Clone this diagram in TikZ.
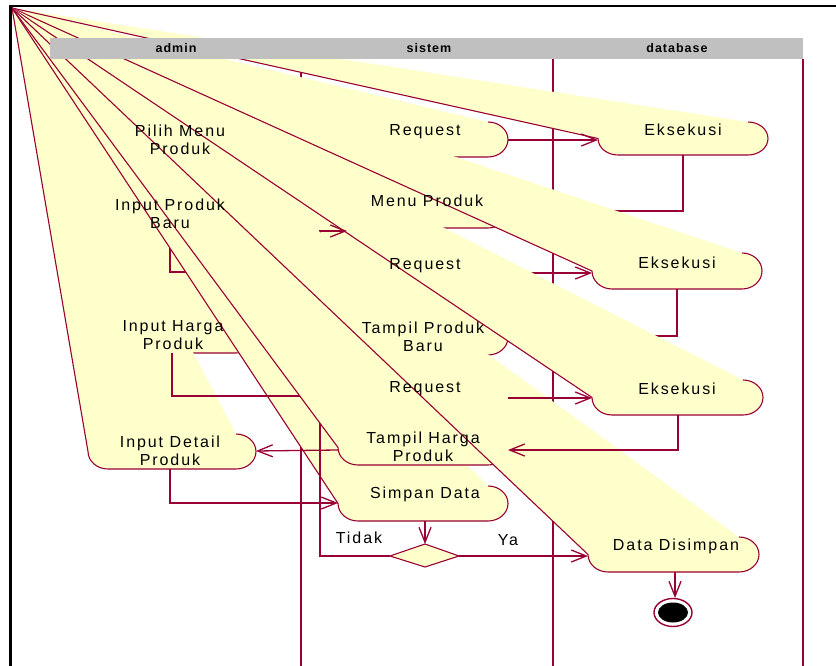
\documentclass[tikz,border=0pt]{standalone}
\usepackage{fontspec}
\setmainfont{Liberation Sans}
\newfontfamily\lblfont[LetterSpace=12]{Liberation Sans}
\newfontfamily\hdrfont[LetterSpace=8]{Liberation Sans}
\usetikzlibrary{arrows.meta}
\definecolor{mar}{RGB}{153,0,51}
\definecolor{actyel}{RGB}{255,255,204}
\definecolor{hdrgray}{RGB}{192,192,192}
\tikzset{
  actline/.style={draw=mar,line width=1.1pt,line join=round},
  trline/.style={draw=mar,line width=1.3pt,-{Straight Barb[length=15pt,width=12pt]}},
  plainline/.style={draw=mar,line width=1.3pt},
  lane/.style={draw=mar,line width=1.8pt},
  lbl/.style={font=\lblfont\fontsize{16}{18}\selectfont,align=center,inner sep=0pt},
  hdr/.style={font=\hdrfont\bfseries\fontsize{12.5}{14}\selectfont,inner sep=0pt}
}
% activity drawn with its top-left corner collapsed to the point (12,8)
\newcommand\actvshape[4]{%
  \pgfmathsetmacro\ymid{(#3+#4)/2}%
  \pgfmathsetmacro\hk{0.552*(#4-#3)/2}%
  \fill[actyel] (12,8) -- (#2-20,#3) .. controls (#2-9,#3) and (#2,\ymid-\hk) .. (#2,\ymid)
     .. controls (#2,\ymid+\hk) and (#2-9,#4) .. (#2-20,#4) -- (#1+20,#4)
     .. controls (#1+9,#4) and (#1,\ymid+\hk) .. (#1,\ymid) -- cycle;
  \draw[actline] (#2-20,#3) .. controls (#2-9,#3) and (#2,\ymid-\hk) .. (#2,\ymid)
     .. controls (#2,\ymid+\hk) and (#2-9,#4) .. (#2-20,#4) -- (#1+20,#4)
     .. controls (#1+9,#4) and (#1,\ymid+\hk) .. (#1,\ymid) -- (12,8);
}
\begin{document}
\begin{tikzpicture}[x=1pt,y=-1pt]
\useasboundingbox (0,0) rectangle (836,666);
% lanes
\draw[lane] (301,59) -- (301,666);
\draw[lane] (553,59) -- (553,666);
\draw[lane] (803,59) -- (803,666);
% activities and transitions in drawing order
\actvshape{95}{263}{122}{157}   % Pilih Menu Produk
\actvshape{338}{508}{122}{157}  % Request 1
\draw[trline] (263,140) -- (338,140);
\actvshape{598}{768}{122}{155}  % Eksekusi 1
\actvshape{338}{508}{192}{228}  % Menu Produk
\draw[trline] (683,155) -- (683,211) -- (508,211);
\actvshape{86}{254}{197}{232}   % Input Produk Baru
\draw[trline] (338,211) -- (254,214);
\actvshape{338}{508}{257}{292}  % Request 2
\actvshape{592}{762}{253}{289}  % Eksekusi 2
\draw[trline] (508,273) -- (592,273);
\actvshape{338}{508}{320}{355}  % Tampil Produk Baru
\draw[trline] (677,289) -- (677,336) -- (508,336);
\actvshape{88}{256}{318}{353}   % Input Harga Produk
\draw[trline] (338,337) -- (256,336);
\actvshape{338}{508}{380}{415}  % Request 3
\actvshape{592}{763}{380}{415}  % Eksekusi 3
\actvshape{88}{256}{434}{469}   % Input Detail Produk
\draw[trline] (170,232) -- (170,272) -- (338,272);
\actvshape{338}{508}{486}{521}  % Simpan Data
\draw[trline] (172,353) -- (172,396) -- (338,396);
\draw[trline] (390,556) -- (320,556) -- (320,231) -- (347,231);
\actvshape{338}{508}{430}{465}  % Tampil Harga Produk
\actvshape{588}{759}{537}{572}  % Data Disimpan
\draw[trline] (508,140) -- (598,140);
\draw[trline] (508,398) -- (592,398);
\draw[trline] (678,415) -- (678,450) -- (508,450);
\draw[trline] (338,450) -- (256,451);
\draw[trline] (170,469) -- (170,503) -- (338,503);
% decision
\filldraw[fill=actyel,actline] (425,544) -- (459,556) -- (425,567) -- (390,556) -- cycle;
\draw[trline] (425,521) -- (425,544);
\draw[trline] (459,556) -- (588,556);
% final
\draw[trline] (675,572) -- (675,598);
\filldraw[fill=white,draw=mar,line width=1.4pt] (673,612.5) ellipse [x radius=19,y radius=14];
\fill[black] (673,612.5) ellipse [x radius=15,y radius=10];
% labels
\node[lbl] (t1) at (180,140) {Pilih Menu\\Produk};
\node[lbl] (t2) at (425,132) {Request};
\node[lbl] (t3) at (683,130) {Eksekusi};
\node[lbl] (t4) at (427,201) {Menu Produk};
\node[lbl] (t5) at (170,214) {Input Produk\\Baru};
\node[lbl] (t6) at (425,266) {Request};
\node[lbl] (t7) at (677,263) {Eksekusi};
\node[lbl] (t8) at (423,337) {Tampil Produk\\Baru};
\node[lbl] (t9) at (173,335) {Input Harga\\Produk};
\node[lbl] (t10) at (425,389) {Request};
\node[lbl] (t11) at (677,389) {Eksekusi};
\node[lbl] (t12) at (423,447) {Tampil Harga\\Produk};
\node[lbl] (t13) at (170,451) {Input Detail\\Produk};
\node[lbl] (t14) at (425,494) {Simpan Data};
\node[lbl] (t15) at (676,546) {Data Disimpan};
\node[lbl] (tidak) at (359,538) {Tidak};
\node[lbl] (ya) at (508,540) {Ya};
% header
\fill[hdrgray] (50,38) rectangle (803,59);
\node[hdr] (ha) at (176,48.5) {admin};
\node[hdr] (hs) at (429,48.5) {sistem};
\node[hdr] (hd) at (677,48.5) {database};
% frame
\draw[line width=2.5pt] (10.7,666) -- (10.7,6.2) -- (836,6.2);
\end{tikzpicture}
\end{document}
